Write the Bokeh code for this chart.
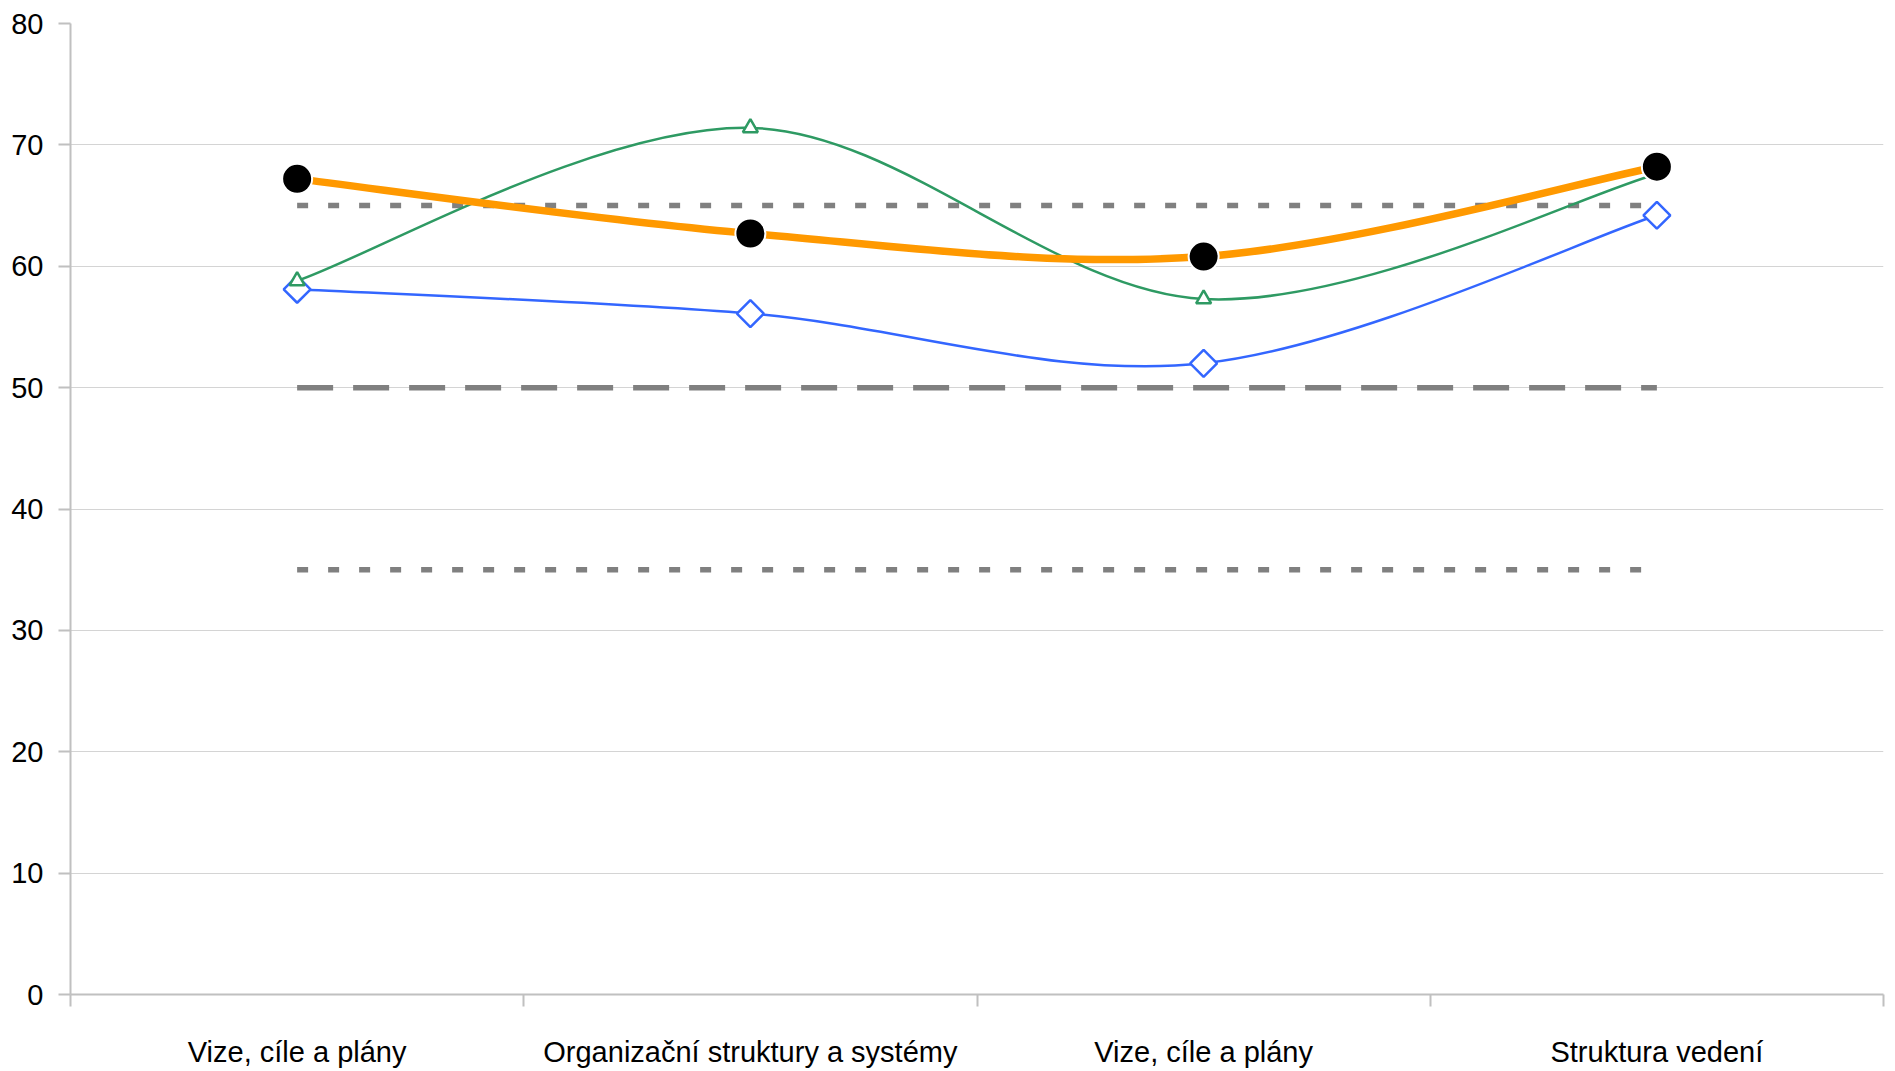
from bokeh.plotting import figure
from bokeh.models import Range1d, FixedTicker
from bokeh.embed import file_html
from bokeh.resources import INLINE
import math

categories = ["Vize, cíle a plány", "Organizační struktury a systémy", "Vize, cíle a plány", "Struktura vedení"]
orange_vals = [67.2, 62.7, 60.8, 68.2]
green_vals = [58.8, 71.4, 57.3, 67.6]
blue_vals = [58.1, 56.1, 52.0, 64.2]
upper_ref = 65
mid_ref = 50
lower_ref = 35
y_ticks = [0, 10, 20, 30, 40, 50, 60, 70, 80]

xs = [i + 0.5 for i in range(len(categories))]

FONT = "Liberation Sans"

p = figure(width=1888, height=1070, output_backend="svg", toolbar_location=None,
           x_range=Range1d(0, len(categories)), y_range=Range1d(0, 80),
           min_border_left=70, min_border_right=5, min_border_top=23, min_border_bottom=73)
p.outline_line_color = None
p.background_fill_color = "white"
p.border_fill_color = "white"

# axes
p.xgrid.grid_line_color = None
p.ygrid.grid_line_color = "#d4d4d4"
p.ygrid.grid_line_width = 1

p.xaxis.ticker = FixedTicker(ticks=xs, minor_ticks=[0, 1, 2, 3, 4])
p.xaxis.major_label_overrides = {x: c for x, c in zip(xs, categories)}
p.xaxis.major_tick_out = 0
p.xaxis.major_tick_in = 0
p.xaxis.minor_tick_out = 12
p.xaxis.minor_tick_in = 0
p.xaxis.minor_tick_line_color = "#c0c0c0"
p.xaxis.minor_tick_line_width = 2
p.xaxis.axis_line_color = "#c0c0c0"
p.xaxis.axis_line_width = 2
p.xaxis.major_label_standoff = 29
p.xaxis.major_label_text_font = FONT
p.xaxis.major_label_text_font_size = "29px"
p.xaxis.major_label_text_color = "black"

p.yaxis.ticker = FixedTicker(ticks=y_ticks, minor_ticks=[])
p.yaxis.major_tick_out = 12
p.yaxis.major_tick_in = 0
p.yaxis.major_tick_line_color = "#c0c0c0"
p.yaxis.major_tick_line_width = 2
p.yaxis.axis_line_color = "#c0c0c0"
p.yaxis.axis_line_width = 2
p.yaxis.major_label_standoff = 15
p.yaxis.major_label_text_font = FONT
p.yaxis.major_label_text_font_size = "29px"
p.yaxis.major_label_text_color = "black"

# reference lines
p.line([xs[0], xs[-1]], [upper_ref, upper_ref], line_color="#808080", line_width=5.5, line_dash="11 20")
p.line([xs[0], xs[-1]], [lower_ref, lower_ref], line_color="#808080", line_width=5.5, line_dash="11 20")
p.line([xs[0], xs[-1]], [mid_ref, mid_ref], line_color="#808080", line_width=5.5, line_dash="36 20")


def smooth(x, y, t=1.0 / 6.0):
    n = len(x)
    x0, y0, x1, y1, cx0, cy0, cx1, cy1 = [], [], [], [], [], [], [], []
    for i in range(n - 1):
        pa = (x[i - 1], y[i - 1]) if i > 0 else (x[i], y[i])
        pb = (x[i], y[i])
        pc = (x[i + 1], y[i + 1])
        pd = (x[i + 2], y[i + 2]) if i + 2 < n else (x[i + 1], y[i + 1])
        x0.append(pb[0]); y0.append(pb[1])
        x1.append(pc[0]); y1.append(pc[1])
        cx0.append(pb[0] + (pc[0] - pa[0]) * t)
        cy0.append(pb[1] + (pc[1] - pa[1]) * t)
        cx1.append(pc[0] - (pd[0] - pb[0]) * t)
        cy1.append(pc[1] - (pd[1] - pb[1]) * t)
    return dict(x0=x0, y0=y0, x1=x1, y1=y1, cx0=cx0, cy0=cy0, cx1=cx1, cy1=cy1)


blue_c = "#3366FF"
green_c = "#2E9A63"
orange_c = "#FF9900"

p.bezier(**smooth(xs, blue_vals), line_color=blue_c, line_width=2.5)
p.bezier(**smooth(xs, green_vals), line_color=green_c, line_width=2.5)
p.bezier(**smooth(xs, orange_vals), line_color=orange_c, line_width=7.5)

p.scatter(xs, blue_vals, marker="square", angle=math.pi / 4, size=19,
          fill_color="white", line_color=blue_c, line_width=2.5)
p.scatter(xs, green_vals, marker="triangle", size=15,
          fill_color="white", line_color=green_c, line_width=2.5)
p.scatter(xs, orange_vals, marker="circle", size=30,
          fill_color="black", line_color="white", line_width=2)

open("out.html", "w").write(file_html(p, INLINE))
